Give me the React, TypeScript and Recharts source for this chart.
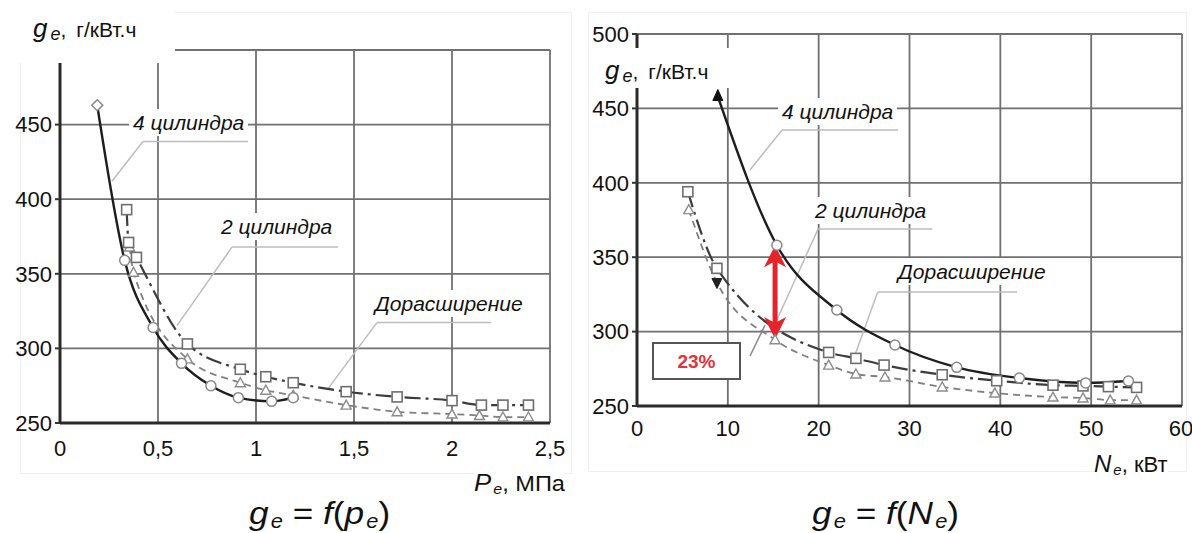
import React from 'react';
import { LineChart, Line, XAxis, YAxis, CartesianGrid, ReferenceLine } from 'recharts';

const FONT = '"Liberation Sans", Arial, sans-serif';

// ---- left panel: g_e = f(p_e) ----
const peTicks = [0, 0.5, 1, 1.5, 2, 2.5];
const geTicksL = [250, 300, 350, 400, 450, 500];

const pe4cyl = [0.19, 0.33, 0.475, 0.62, 0.77, 0.91, 1.08, 1.19];
const ge4cylP = [463, 359, 314, 290, 275, 267, 264.5, 267];

const pe2cyl = [0.34, 0.35, 0.39, 0.65, 0.92, 1.05, 1.19, 1.46, 1.72, 2.0, 2.15, 2.26, 2.39];
const ge2cylP = [393, 371, 361, 303, 286, 281, 277, 271, 267.5, 265, 262, 262, 262];

const peExp = [0.355, 0.375, 0.65, 0.92, 1.05, 1.19, 1.46, 1.72, 2.0, 2.14, 2.26, 2.39];
const geExpP = [368, 351, 293, 277, 272, 268.5, 262, 257.5, 256, 255, 254, 254];

// ---- right panel: g_e = f(N_e) ----
const neTicks = [0, 10, 20, 30, 40, 50, 60];
const geTicksR = [250, 300, 350, 400, 450, 500];

const ne4cyl = [8.9, 15.4, 22, 28.4, 35.2, 42.1, 49.4, 54.1];
const ge4cylN = [458, 358, 314.5, 291, 276, 268.8, 265.5, 266.8];

const ne2cyl = [5.6, 8.8, 21.1, 24.1, 27.2, 33.6, 39.6, 45.8, 49.1, 51.9, 55];
const ge2cylN = [394, 342.5, 286, 282, 277.5, 271, 267, 264, 263.5, 263, 262.5];

const neExp = [5.7, 8.8, 15.2, 21.1, 24.1, 27.3, 33.6, 39.4, 45.8, 49.1, 52.1, 55];
const geExpN = [382, 333, 294.5, 277.5, 271.5, 269.5, 262.8, 258.7, 256, 255.4, 254, 254];

// 4 cyl vs expansion at ~15 kW
const gapArrow = { x: 15.2, from: 358, to: 295 };

const zip = (xs: number[], ys: number[]) => xs.map((x, i) => ({ x, y: ys[i] }));
const comma = (v: number) => String(v).replace('.', ',');
// top label of the left axis sits under the title box, so skip it
const noTopLabel = (v: number, i: number) => (i === geTicksL.length - 1 ? '' : String(v));

const circleDot = (filledFirst: boolean) => (p: any) => {
  const { cx, cy, index } = p;
  if (cx == null || cy == null) return <g key={index} />;
  if (index === 0 && filledFirst) {
    return <path key={index} d={`M${cx},${cy - 7}L${cx + 5},${cy + 4}L${cx - 5},${cy + 4}Z`} fill="#111" stroke="#111" />;
  }
  if (index === 0) {
    return <path key={index} d={`M${cx},${cy - 5.5}L${cx + 5.5},${cy}L${cx},${cy + 5.5}L${cx - 5.5},${cy}Z`} fill="#fff" stroke="#888" strokeWidth={1.5} />;
  }
  return <circle key={index} cx={cx} cy={cy} r={5} fill="#fff" stroke="#888" strokeWidth={1.5} />;
};

const squareDot = (p: any) => {
  const { cx, cy, index } = p;
  if (cx == null || cy == null) return <g key={index} />;
  return <rect key={index} x={cx - 5} y={cy - 5} width={10} height={10} fill="#fff" stroke="#6e6e6e" strokeWidth={1.6} />;
};

const triangleDot = (filledIdx: number) => (p: any) => {
  const { cx, cy, index } = p;
  if (cx == null || cy == null) return <g key={index} />;
  if (index === filledIdx) {
    return <path key={index} d={`M${cx - 5},${cy - 4}L${cx + 5},${cy - 4}L${cx},${cy + 6}Z`} fill="#222" stroke="#222" />;
  }
  return <path key={index} d={`M${cx},${cy - 5}L${cx + 5},${cy + 4}L${cx - 5},${cy + 4}Z`} fill="#fff" stroke="#8c8c8c" strokeWidth={1.4} />;
};

const arrowShape = (p: any) => {
  const { x1, y1, x2, y2 } = p;
  const top = Math.min(y1, y2);
  const bot = Math.max(y1, y2);
  const c = '#e4232b';
  return (
    <g>
      <line x1={x1} y1={top + 14} x2={x2} y2={bot - 14} stroke={c} strokeWidth={5} />
      <path d={`M${x1},${top}L${x1 + 11},${top + 22}L${x1},${top + 16}L${x1 - 11},${top + 22}Z`} fill={c} />
      <path d={`M${x1},${bot}L${x1 + 11},${bot - 22}L${x1},${bot - 16}L${x1 - 11},${bot - 22}Z`} fill={c} />
    </g>
  );
};

const leader = { stroke: '#bdbdbd', strokeWidth: 1.5 };
const gridProps = { stroke: '#707070', strokeWidth: 1.8 };
const axisLine = { stroke: '#2a2a2a', strokeWidth: 3 };
const tickStyle = { fill: '#111', fontSize: 22, fontFamily: FONT };

const Sub = ({ children }: { children: React.ReactNode }) => (
  <span style={{ fontSize: '0.62em', fontStyle: 'italic', position: 'relative', top: '0.18em', marginLeft: 2 }}>{children}</span>
);

const box = (left: number, top: number, extra: React.CSSProperties = {}): React.CSSProperties => ({
  position: 'absolute', left, top, background: '#fff', fontFamily: FONT, color: '#111', whiteSpace: 'nowrap', lineHeight: 1, ...extra,
});

const label = (left: number, top: number, text: string) => (
  <div style={box(left, top, { fontSize: 21, fontStyle: 'italic', padding: '3px 4px' })}>{text}</div>
);

// "g_e, г/кВт.ч" with a larger italic g
const GeTitle = () => (
  <>
    <i style={{ fontSize: 26 }}>g</i>
    <span style={{ fontSize: 18, fontStyle: 'italic', position: 'relative', top: 3, marginLeft: 3 }}>e</span>
    <span style={{ fontSize: 21 }}>,</span>
    <span style={{ fontSize: 21, marginLeft: 10 }}>г/кВт.ч</span>
  </>
);

export default function App() {
  return (
    <div style={{ position: 'absolute', left: 0, top: 0, width: 1192, height: 533, background: '#fff', overflow: 'hidden' }}>
      {/* faint panel frames */}
      <div style={{ position: 'absolute', left: 20, top: 12, width: 550, height: 460, border: '1px solid #f0f0f0' }} />
      <div style={{ position: 'absolute', left: 588, top: 12, width: 597, height: 458, border: '1px solid #f0f0f0' }} />

      <div style={{ position: 'absolute', left: 0, top: 0 }}>
        <LineChart width={590} height={470} margin={{ top: 50, right: 40, bottom: 0, left: 0 }}>
          <CartesianGrid {...gridProps} />
          <XAxis type="number" dataKey="x" domain={[0, 2.5]} ticks={peTicks} tickFormatter={comma} height={47}
            axisLine={axisLine} tickLine={false} tick={tickStyle} tickMargin={11} allowDataOverflow />
          <YAxis type="number" domain={[250, 500]} ticks={geTicksL} tickFormatter={noTopLabel} width={60}
            axisLine={axisLine} tickLine={{ stroke: '#333', strokeWidth: 2 }} tickSize={5} tickMargin={3} tick={tickStyle} allowDataOverflow />
          <ReferenceLine segment={[{ x: 0.265, y: 412 }, { x: 0.423, y: 438.7 }]} {...leader} />
          <ReferenceLine segment={[{ x: 0.423, y: 438.7 }, { x: 0.96, y: 438.7 }]} {...leader} />
          <ReferenceLine segment={[{ x: 0.597, y: 315.3 }, { x: 0.878, y: 368 }]} {...leader} />
          <ReferenceLine segment={[{ x: 0.878, y: 368 }, { x: 1.418, y: 368 }]} {...leader} />
          <ReferenceLine segment={[{ x: 1.362, y: 272 }, { x: 1.617, y: 317.3 }]} {...leader} />
          <ReferenceLine segment={[{ x: 1.617, y: 317.3 }, { x: 2.2, y: 317.3 }]} {...leader} />
          <Line data={zip(peExp, geExpP)} dataKey="y" type="monotone" stroke="#808080" strokeWidth={1.8}
            strokeDasharray="7 5" dot={triangleDot(-1)} isAnimationActive={false} />
          <Line data={zip(pe2cyl, ge2cylP)} dataKey="y" type="monotone" stroke="#3c3c3c" strokeWidth={2.2}
            strokeDasharray="16 5 3 5" dot={squareDot} isAnimationActive={false} />
          <Line data={zip(pe4cyl, ge4cylP)} dataKey="y" type="monotone" stroke="#1e1e1e" strokeWidth={2.4}
            dot={circleDot(false)} isAnimationActive={false} />
        </LineChart>
      </div>

      <div style={{ position: 'absolute', left: 577, top: 0 }}>
        <LineChart width={615} height={446} margin={{ top: 34, right: 10, bottom: 0, left: 0 }}>
          <CartesianGrid {...gridProps} />
          <XAxis type="number" dataKey="x" domain={[0, 60]} ticks={neTicks} height={40}
            axisLine={axisLine} tickLine={false} tick={tickStyle} tickMargin={8} allowDataOverflow />
          <YAxis type="number" domain={[250, 500]} ticks={geTicksR} width={60}
            axisLine={axisLine} tickLine={{ stroke: '#333', strokeWidth: 2 }} tickSize={5} tickMargin={3} tick={tickStyle} allowDataOverflow />
          <ReferenceLine segment={[{ x: 12.44, y: 408.6 }, { x: 15.97, y: 435.5 }]} {...leader} />
          <ReferenceLine segment={[{ x: 15.97, y: 435.5 }, { x: 28.74, y: 435.5 }]} {...leader} />
          <ReferenceLine segment={[{ x: 15.4, y: 307.8 }, { x: 19.93, y: 368.9 }]} {...leader} />
          <ReferenceLine segment={[{ x: 19.93, y: 368.9 }, { x: 32.5, y: 368.9 }]} {...leader} />
          <ReferenceLine segment={[{ x: 23.8, y: 280.9 }, { x: 26.5, y: 326.6 }]} {...leader} />
          <ReferenceLine segment={[{ x: 26.5, y: 326.6 }, { x: 41.85, y: 326.6 }]} {...leader} />
          <ReferenceLine segment={[{ x: 12.44, y: 283.6 }, { x: 14.1, y: 304.4 }]} stroke="#888" strokeWidth={1.5} />
          <Line data={zip(neExp, geExpN)} dataKey="y" type="monotone" stroke="#808080" strokeWidth={1.8}
            strokeDasharray="7 5" dot={triangleDot(1)} isAnimationActive={false} />
          <Line data={zip(ne2cyl, ge2cylN)} dataKey="y" type="monotone" stroke="#3c3c3c" strokeWidth={2.2}
            strokeDasharray="16 5 3 5" dot={squareDot} isAnimationActive={false} />
          <Line data={zip(ne4cyl, ge4cylN)} dataKey="y" type="monotone" stroke="#1e1e1e" strokeWidth={2.4}
            dot={circleDot(true)} isAnimationActive={false} />
          <ReferenceLine segment={[{ x: gapArrow.x, y: gapArrow.from }, { x: gapArrow.x, y: gapArrow.to }]} shape={arrowShape} />
        </LineChart>
      </div>

      {/* axis titles (white boxes mask the chart corner) */}
      <div style={box(10, 6, { width: 165, height: 57, paddingLeft: 23, paddingTop: 9, boxSizing: 'border-box' })}>
        <GeTitle />
      </div>
      <div style={box(597, 48, { width: 133, height: 40, paddingLeft: 8, paddingTop: 9, boxSizing: 'border-box' })}>
        <GeTitle />
      </div>
      <div style={box(474, 471, { transform: 'scaleX(1.07)', transformOrigin: 'left center' })}>
        <i style={{ fontSize: 24 }}>P</i>
        <span style={{ fontSize: 15, fontStyle: 'italic', position: 'relative', top: 3, marginLeft: 2 }}>e</span>
        <span style={{ fontSize: 22 }}>, МПа</span>
      </div>
      <div style={box(1094, 452, {})}>
        <i style={{ fontSize: 24 }}>N</i>
        <span style={{ fontSize: 15, fontStyle: 'italic', position: 'relative', top: 3, marginLeft: 2 }}>e</span>
        <span style={{ fontSize: 22 }}>, кВт</span>
      </div>

      {/* curve labels */}
      {label(129, 109, '4 цилиндра')}
      {label(217, 213, '2 цилиндра')}
      {label(371, 290, 'Дорасширение')}
      {label(778, 98, '4 цилиндра')}
      {label(811, 197, '2 цилиндра')}
      {label(894, 258, 'Дорасширение')}

      {/* 23% box */}
      <div style={box(652, 342, { width: 89, height: 38, border: '2px solid #555', boxSizing: 'border-box', display: 'flex', alignItems: 'center', justifyContent: 'center', color: '#e2323c', fontWeight: 'bold', fontSize: 19 })}>
        23%
      </div>

      {/* captions */}
      <div style={box(249, 497, { fontSize: 32, transform: 'scaleX(1.1)', transformOrigin: 'left center', background: 'transparent' })}>
        <i>g</i><Sub>e</Sub> = <i>f</i>(<i>p</i><Sub>e</Sub>)
      </div>
      <div style={box(812, 497, { fontSize: 32, transform: 'scaleX(1.1)', transformOrigin: 'left center', background: 'transparent' })}>
        <i>g</i><Sub>e</Sub> = <i>f</i>(<i>N</i><Sub>e</Sub>)
      </div>
    </div>
  );
}
